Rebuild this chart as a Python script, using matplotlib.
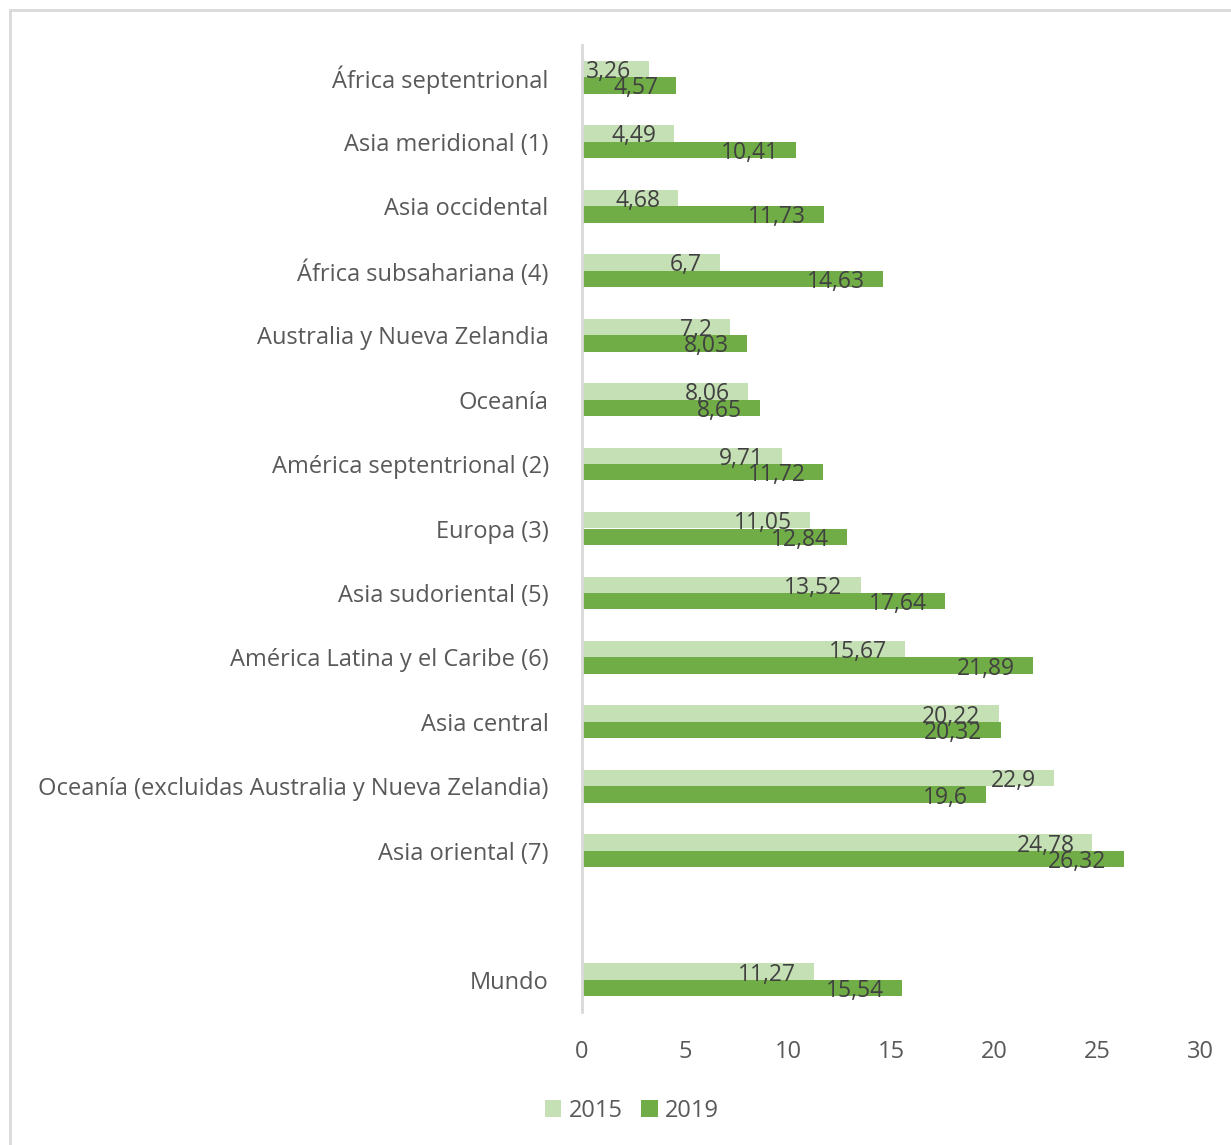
import matplotlib.pyplot as plt
from matplotlib.patches import Rectangle

regions = [
    "África septentrional",
    "Asia meridional (1)",
    "Asia occidental",
    "África subsahariana (4)",
    "Australia y Nueva Zelandia",
    "Oceanía",
    "América septentrional (2)",
    "Europa (3)",
    "Asia sudoriental (5)",
    "América Latina y el Caribe (6)",
    "Asia central",
    "Oceanía (excluidas Australia y Nueva Zelandia)",
    "Asia oriental (7)",
    "Mundo",
]
values_2015 = [3.26, 4.49, 4.68, 6.7, 7.2, 8.06, 9.71, 11.05, 13.52, 15.67, 20.22, 22.9, 24.78, 11.27]
values_2019 = [4.57, 10.41, 11.73, 14.63, 8.03, 8.65, 11.72, 12.84, 17.64, 21.89, 20.32, 19.6, 26.32, 15.54]
x_ticks = [0, 5, 10, 15, 20, 25, 30]

plt.rcParams['font.family'] = ['Open Sans', 'DejaVu Sans']
TEXT = "#595959"
C2015 = "#C5E0B4"
C2019 = "#70AD47"

W, H = 1231, 1145
fig = plt.figure(figsize=(W / 100, H / 100), dpi=100)
ax = fig.add_axes([582 / W, 1 - 1012 / H, 618 / W, 967 / H])

# outer frame of the chart
fig.patches.append(Rectangle((10 / W, -0.05), 1.1, 1 - 10 / H + 0.05,
                             transform=fig.transFigure, fill=False,
                             edgecolor="#D9D9D9", linewidth=2, clip_on=False))

# one empty slot before "Mundo"
pos = list(range(len(regions) - 1)) + [len(regions)]
h = 0.255
y15 = [p - h / 2 for p in pos]
y19 = [p + h / 2 for p in pos]
ax.barh(y15, values_2015, height=h, color=C2015, label="2015")
ax.barh(y19, values_2019, height=h, color=C2019, label="2019")

def fmt(v):
    return ("%g" % v).replace(".", ",")

for y, v in zip(y15, values_2015):
    ax.annotate(fmt(v), (v, y), xytext=(-18, -3), textcoords="offset pixels",
                ha="right", va="center", fontsize=16.5, color="#404040")
for y, v in zip(y19, values_2019):
    ax.annotate(fmt(v), (v, y), xytext=(-18, -3), textcoords="offset pixels",
                ha="right", va="center", fontsize=16.5, color="#404040")

ax.set_xlim(0, 30)
ax.set_ylim(len(regions) + 0.5, -0.5)
ax.set_yticks(pos)
ax.set_yticklabels(regions, fontsize=17, color=TEXT)
ax.set_xticks(x_ticks)
ax.set_xticklabels([str(t) for t in x_ticks], fontsize=17, color=TEXT)
ax.tick_params(axis="both", length=0)
ax.tick_params(axis="y", pad=24)
ax.tick_params(axis="x", pad=20)
for s in ["top", "right", "bottom"]:
    ax.spines[s].set_visible(False)
ax.spines["left"].set_color("#D9D9D9")
ax.spines["left"].set_linewidth(2)

fig.legend(loc="center", bbox_to_anchor=(632 / W, 1 - 1111 / H), ncol=2,
           frameon=False, fontsize=17, labelcolor=TEXT, handlelength=0.7,
           handleheight=0.7, handletextpad=0.3, columnspacing=0.8)

fig.savefig("out.png", dpi=100, facecolor="white")
